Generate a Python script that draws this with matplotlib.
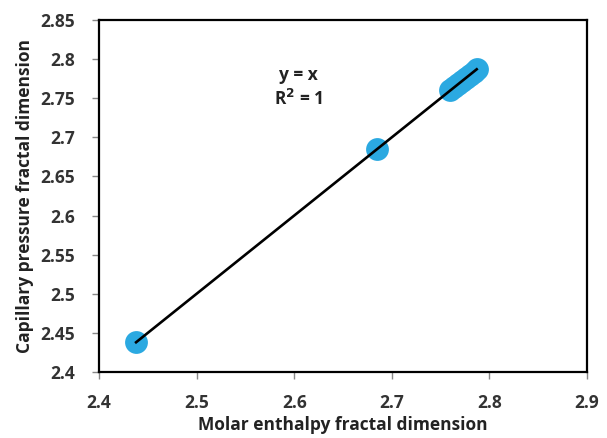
import matplotlib
matplotlib.use("Agg")
import matplotlib.pyplot as plt

x_vals = [2.438, 2.685, 2.760, 2.764, 2.768, 2.772, 2.776, 2.780, 2.784, 2.787]
y_vals = [2.438, 2.685, 2.760, 2.764, 2.768, 2.772, 2.776, 2.780, 2.784, 2.787]
x_ticks = [2.4, 2.5, 2.6, 2.7, 2.8, 2.9]
y_ticks = [2.4, 2.45, 2.5, 2.55, 2.6, 2.65, 2.7, 2.75, 2.8, 2.85]

plt.rcParams['font.family'] = ['Open Sans', 'DejaVu Sans']

fig = plt.figure(figsize=(6.07, 4.38), dpi=100)
ax = fig.add_axes([99/607, 1 - 372/438, (587-99)/607, (372-20)/438])

ax.scatter(x_vals, y_vals, s=270, color='#2BA9E1', zorder=2, linewidths=0)
fit_x = [min(x_vals), max(x_vals)]
ax.plot(fit_x, fit_x, color='black', lw=1.9, zorder=3)

ax.set_xlim(2.4, 2.9)
ax.set_ylim(2.4, 2.85)
ax.set_xticks(x_ticks)
ax.set_yticks(y_ticks)
ax.set_xticklabels([f"{v:g}" for v in x_ticks])
ax.set_yticklabels([f"{v:g}" for v in y_ticks])
for lab in ax.get_xticklabels() + ax.get_yticklabels():
    lab.set_fontweight('bold')
    lab.set_fontsize(12.5)
    lab.set_color('#333333')
ax.tick_params(direction='out', length=5, width=1, color='#888888')
ax.tick_params(axis='x', pad=11)
ax.tick_params(axis='y', pad=12)

for sp in ax.spines.values():
    sp.set_linewidth(1.6)
    sp.set_color('black')

ax.set_xlabel('Molar enthalpy fractal dimension', fontsize=12.5, fontweight='bold', color='#222222', labelpad=3)
ax.set_ylabel('Capillary pressure fractal dimension', fontsize=12.5, fontweight='bold', color='#222222', labelpad=5)

ax.text(2.604, 2.764, 'y = x\nR$^{\\mathbf{2}}$ = 1', ha='center', va='center', fontsize=12.5,
        fontweight='bold', color='#222222', linespacing=1.3)

fig.savefig('out.png', dpi=100)
